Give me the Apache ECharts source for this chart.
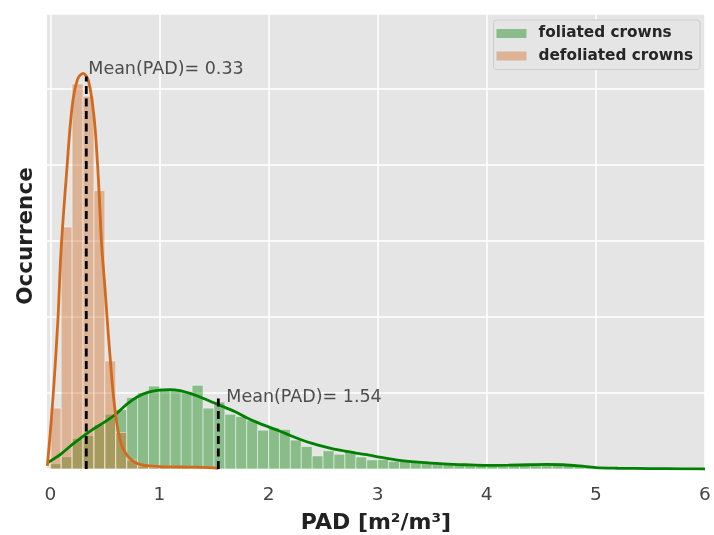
<!DOCTYPE html>
<html><head><meta charset="utf-8">
<script src="https://cdn.jsdelivr.net/npm/echarts@6/dist/echarts.min.js"></script>
<style>html,body{margin:0;padding:0;background:#fff}#c{width:714px;height:535px}</style>
</head><body><div id="c"></div>
<script>
// ---- data ----
const seriesNames = ['foliated crowns', 'defoliated crowns'];
const binStart = 0.0;
const binWidth = 0.1;
const foliatedHist = [0.035,0.08,0.20,0.22,0.29,0.36,0.39,0.47,0.50,0.545,
  0.53,0.525,0.51,0.55,0.40,0.44,0.36,0.345,0.32,0.255,
  0.27,0.26,0.19,0.148,0.086,0.12,0.097,0.117,0.079,0.06,
  0.062,0.05,0.052,0.045,0.042,0.037,0.033,0.035,0.03,0.028,
  0.022,0.02,0.024,0.022,0.027,0.03,0.032,0.03,0.028,0.01,
  0.003,0.004,0.002,0.003,0.002,0,0.002,0.001,0,0.002];
const defoliatedHist = [0.40,1.59,2.53,2.45,1.83,0.71,0.24,0.06,0.02,0.01,0.01,0.01,0.01,0.01,0.01];
const foliatedKdeX = [-0.027,0.1,0.2,0.3,0.4,0.5,0.6,0.7,0.8,0.9,1.0,1.1,1.2,1.3,1.4,1.5,1.6,1.7,1.8,1.9,2.0,2.1,2.2,2.3,2.4,2.5,2.6,2.7,2.8,2.9,3.0,3.2,3.4,3.6,3.8,4.0,4.2,4.4,4.55,4.7,4.85,5.0,5.2,5.5,5.8,6.0];
const foliatedKdeY = [0.04,0.10,0.16,0.215,0.265,0.31,0.36,0.425,0.475,0.505,0.518,0.522,0.513,0.492,0.465,0.435,0.405,0.375,0.337,0.305,0.277,0.25,0.22,0.192,0.168,0.148,0.131,0.118,0.105,0.094,0.08,0.057,0.043,0.034,0.028,0.024,0.025,0.028,0.03,0.028,0.02,0.009,0.005,0.003,0.001,0.0];
const defoliatedKdeX = [-0.027,0.0,0.03,0.07,0.10,0.15,0.20,0.25,0.30,0.35,0.40,0.43,0.45,0.47,0.50,0.52,0.55,0.58,0.61,0.64,0.67,0.71,0.77,0.82,0.9,1.0,1.1,1.2,1.3,1.4,1.5,1.54];
const defoliatedKdeY = [0.02,0.24,0.52,0.98,1.45,1.95,2.38,2.56,2.60,2.55,2.32,2.04,1.78,1.48,1.20,1.00,0.72,0.47,0.30,0.19,0.13,0.085,0.045,0.03,0.02,0.016,0.014,0.013,0.012,0.011,0.008,0.005];
const meanValues = [1.54, 0.33];
const meanLineTops = [0.467, 2.58];
const xTicks = [0,1,2,3,4,5,6];

// ---- build ----
const FONT = 'DejaVu Sans';
const greenFill = 'rgba(0,128,0,0.4)';
const orangeFill = 'rgba(210,105,30,0.4)';
const lineColors = ['#008000', '#d2691e'];
function histData(arr){ return arr.map((v,i)=>[binStart+i*binWidth, binStart+(i+1)*binWidth, v]); }
function zip(xs, ys){ return xs.map((x,i)=>[x, ys[i]]); }
function histRender(fill){
  return function(params, api){
    const p0 = api.coord([api.value(0), api.value(2)]);
    const p1 = api.coord([api.value(1), 0]);
    return {type:'rect', shape:{x:p0[0], y:p0[1], width:p1[0]-p0[0], height:p1[1]-p0[1]},
      style:{fill:fill, stroke:'rgba(255,255,255,0.45)', lineWidth:1}};
  };
}
const chart = echarts.init(document.getElementById('c'), null, {renderer:'canvas'});
const series = [
  {name:seriesNames[0], type:'custom', renderItem:histRender(greenFill), encode:{x:[0,1], y:2}, data:histData(foliatedHist), itemStyle:{color:greenFill}, silent:true},
  {name:seriesNames[1], type:'custom', renderItem:histRender(orangeFill), encode:{x:[0,1], y:2}, data:histData(defoliatedHist), itemStyle:{color:orangeFill}, silent:true},
  {type:'line', data:zip(foliatedKdeX, foliatedKdeY), smooth:0.35, showSymbol:false, lineStyle:{color:lineColors[0], width:2.8}, silent:true},
  {type:'line', data:zip(defoliatedKdeX, defoliatedKdeY), smooth:0.35, showSymbol:false, lineStyle:{color:lineColors[1], width:2.8}, silent:true}
];
const labelDist = [8, 2];
const labelOff = [0, -7];
meanValues.forEach((m,i)=>{
  series.push({type:'line', data:[[m,0],[m,meanLineTops[i]]], showSymbol:false, lineStyle:{color:'#000', width:2.8, type:[8,4.5]}, silent:true});
  series.push({type:'scatter', data:[[m,meanLineTops[i]]], symbolSize:0, silent:true,
    label:{show:true, position:'right', distance:labelDist[i], offset:[0, labelOff[i]], formatter:'Mean(PAD)= '+m.toFixed(2), color:'#262626', fontSize:17.5, fontFamily:FONT}});
});
const legendIcon = 'path://M0,0L30,0L30,9L0,9Z M37,0L37,0.01';
chart.setOption({
  animation:false,
  backgroundColor:'#fff',
  grid:{left:47, right:9, top:14, bottom:66, show:true, backgroundColor:'#e5e5e5', borderWidth:0, outerBoundsMode:'none', containLabel:false},
  legend:{
    data:[{name:seriesNames[0], itemStyle:{color:greenFill}}, {name:seriesNames[1], itemStyle:{color:orangeFill}}],
    orient:'vertical', right:14, top:20, icon:legendIcon, itemWidth:37, itemHeight:9, itemGap:7.5,
    backgroundColor:'#e5e5e5', borderColor:'#cccccc', borderWidth:1, borderRadius:3, padding:[6,7,6,3],
    textStyle:{fontFamily:FONT, fontWeight:'bold', fontSize:15.3, color:'#262626'}
  },
  xAxis:{type:'value', min:-0.03, max:6,
    axisLine:{show:false}, axisTick:{show:false, customValues:xTicks},
    axisLabel:{customValues:xTicks, fontSize:18.5, color:'#444', margin:17, fontFamily:FONT},
    splitLine:{show:true, lineStyle:{color:'#fff', width:1.5}},
    name:'PAD [m²/m³]', nameLocation:'middle', nameGap:43,
    nameTextStyle:{fontWeight:'bold', fontSize:22, color:'#222', fontFamily:FONT}},
  yAxis:{type:'value', min:0, max:2.99, interval:0.5,
    axisLine:{show:false}, axisTick:{show:false}, axisLabel:{show:false},
    splitLine:{show:true, lineStyle:{color:'#fff', width:1.5}},
    name:'Occurrence', nameLocation:'middle', nameGap:10, nameRotate:90,
    nameTextStyle:{fontWeight:'bold', fontSize:21.5, color:'#222', fontFamily:FONT, padding:[0,0,0,11]}},
  series:series
});
</script></body></html>
